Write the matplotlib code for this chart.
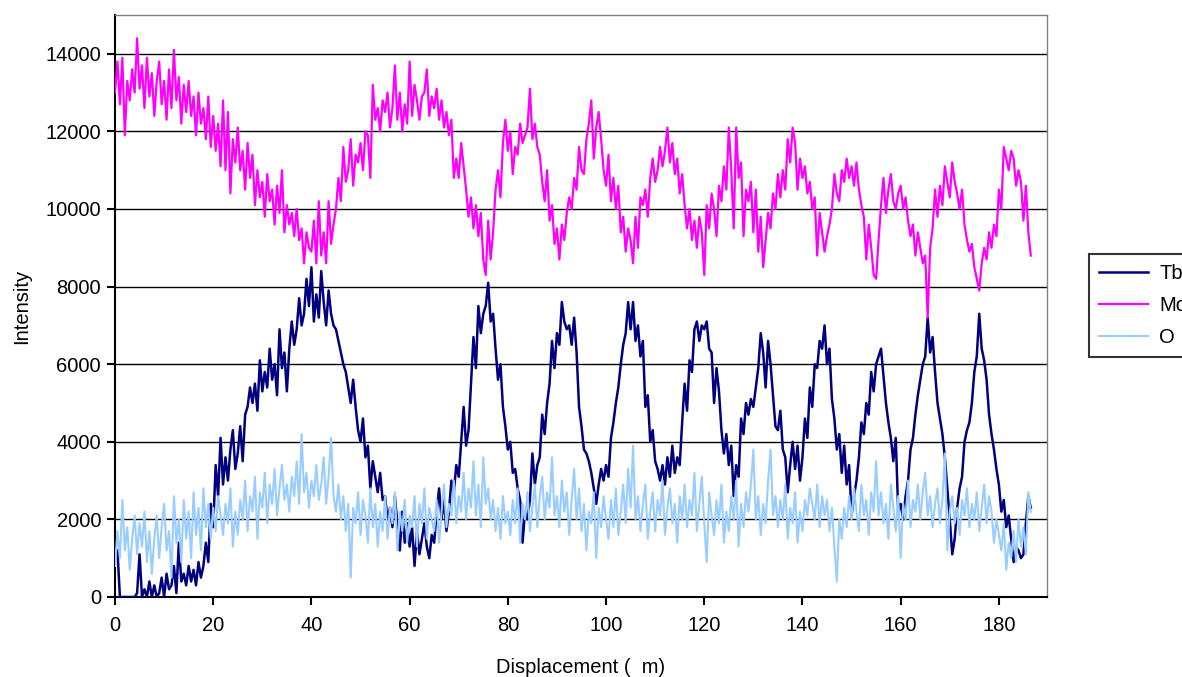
"""Tb / Mo / O intensity profiles along a line scan."""

import numpy as np
import matplotlib.pyplot as plt

# sampling step of the line scan (µm)
step_um = 0.5

# intensity values, one row = 5 µm
tb = [
    1100, 1200, 0, 0, 0, 0, 0, 0, 0, 100,
    1100, 0, 200, 0, 400, 0, 300, 0, 100, 500,
    0, 600, 200, 300, 800, 100, 1400, 400, 600, 300,
    800, 400, 700, 300, 900, 500, 800, 1400, 900, 2400,
    1800, 3400, 2600, 4100, 2900, 3600, 3000, 3800, 4300, 3300,
    3700, 4400, 3500, 4700, 4900, 5400, 5000, 5500, 4800, 6100,
    5300, 5800, 5400, 6400, 5600, 6000, 5200, 6900, 5900, 6300,
    5300, 6400, 7100, 6500, 6900, 7700, 7000, 7300, 8200, 7500,
    8500, 7100, 7800, 7200, 8400, 7600, 7000, 7900, 7300, 7000,
    6900, 6600, 6300, 6000, 5800, 5400, 5000, 5600, 4900, 4300,
    4000, 4600, 3600, 3900, 2800, 3500, 3100, 2700, 3200, 2500,
    2600, 2000, 2300, 1800, 2600, 1900, 1200, 2200, 1400, 1900,
    1300, 1800, 800, 1700, 1100, 1500, 1900, 1300, 1000, 1600,
    1400, 2200, 2800, 2000, 2500, 1700, 2200, 3000, 2700, 3400,
    3100, 4000, 4900, 3900, 4300, 5500, 6700, 5900, 7500, 6800,
    7300, 7500, 8100, 7100, 7300, 6400, 5600, 6000, 4900, 4400,
    3800, 4000, 3200, 3300, 2800, 2500, 1400, 2200, 2000, 2500,
    3700, 2900, 3400, 3600, 4700, 4200, 5000, 5500, 6600, 5900,
    6800, 6500, 7600, 7100, 6900, 7000, 6500, 7200, 6300, 4900,
    4400, 3800, 3700, 3500, 3200, 2800, 2400, 2900, 3300, 3000,
    3400, 3100, 4100, 4500, 5000, 5400, 6000, 6500, 6800, 7600,
    6900, 7600, 6600, 7000, 6200, 6600, 4900, 5200, 4000, 4300,
    3500, 3300, 3000, 3400, 2900, 3600, 3100, 3900, 3200, 3600,
    3400, 4500, 5500, 4800, 6100, 5800, 6900, 7100, 6600, 7000,
    6900, 7100, 6400, 6300, 5000, 5900, 5300, 4300, 3700, 4200,
    3400, 3900, 2600, 3400, 3100, 4600, 4200, 5000, 4700, 5100,
    4900, 5400, 5900, 6800, 6300, 5400, 6600, 6000, 5200, 4400,
    4300, 4800, 3800, 3600, 2700, 3400, 4000, 3300, 3900, 3000,
    3600, 4600, 4100, 5400, 4900, 6000, 5900, 6600, 6400, 7000,
    6000, 6400, 5100, 4600, 3800, 4200, 3200, 3900, 2900, 3400,
    2100, 2600, 3000, 3600, 4500, 4200, 5000, 4700, 5800, 5300,
    6000, 6200, 6400, 5700, 5000, 4500, 4100, 3500, 4100, 2200,
    2400, 2000, 2600, 3000, 3800, 4100, 4700, 5200, 5600, 6000,
    6200, 7200, 6300, 6700, 5800, 5000, 4600, 4200, 3600, 2800,
    2000, 1100, 1500, 2300, 2800, 3100, 4000, 4300, 4500, 5000,
    5800, 6200, 7300, 6400, 6100, 5600, 4700, 4200, 3800, 3300,
    2900, 2200, 2500, 1800, 2100, 1500, 900, 1300, 1200, 1000,
    1100, 1900, 2600, 2300,
]

mo = [
    13000, 13800, 12700, 13900, 11900, 13300, 12800, 13600, 13000, 14400,
    13100, 13700, 12600, 13900, 12900, 13500, 12400, 13300, 13800, 12700,
    13300, 12300, 13600, 12600, 14100, 12800, 13400, 12200, 13200, 12500,
    13300, 12400, 12900, 11900, 13000, 12200, 12600, 11800, 12900, 11600,
    12400, 11500, 12200, 11100, 12800, 11000, 12500, 10400, 11800, 11200,
    12100, 11000, 11500, 10500, 11700, 10800, 11400, 10100, 11000, 10300,
    10700, 9800, 10900, 10200, 10500, 9600, 10600, 9900, 11000, 9400,
    10100, 9600, 9900, 9300, 10000, 9200, 9500, 8600, 9400, 9000,
    8900, 9700, 8600, 10200, 8800, 9400, 8600, 10200, 9100, 9600,
    10000, 10800, 10200, 11600, 10700, 11000, 11800, 10600, 11400, 11200,
    11700, 11000, 12000, 11900, 10800, 13200, 12300, 12600, 12000, 12800,
    12500, 13000, 12100, 12600, 13700, 12300, 13000, 12000, 12700, 12200,
    13800, 12400, 13200, 12800, 12300, 12900, 13000, 13600, 12400, 12900,
    12600, 13100, 12300, 12800, 12100, 12500, 11900, 12300, 10800, 11300,
    10800, 11700, 11100, 10500, 9800, 10300, 9500, 10100, 9300, 9900,
    8700, 8300, 9700, 8700, 9400, 10500, 11000, 10300, 11700, 12300,
    11500, 12000, 10900, 11600, 11400, 12200, 11700, 11900, 12100, 13100,
    11800, 12200, 11600, 11400, 10700, 10200, 11000, 9700, 10100, 9100,
    9500, 8700, 9600, 9200, 9900, 10300, 10000, 10800, 10500, 11600,
    11000, 10900, 11800, 12200, 12800, 11300, 12100, 12500, 11800, 11000,
    10600, 11400, 10200, 10800, 10000, 10600, 9400, 9800, 8900, 9500,
    9200, 8600, 9800, 9000, 10300, 10100, 10500, 9800, 10800, 11300,
    10700, 11000, 11600, 11100, 11500, 12100, 11200, 11700, 10900, 11300,
    10400, 10900, 10100, 9500, 10000, 9200, 9700, 9000, 9800, 9400,
    8300, 10100, 9500, 10400, 10000, 9300, 10600, 10200, 11100, 10500,
    12100, 11000, 9500, 12100, 10800, 11200, 9300, 10500, 10200, 10700,
    9400, 10500, 8900, 9800, 8500, 9200, 9900, 9500, 10400, 10000,
    10900, 10300, 11000, 10500, 11800, 11200, 12100, 11700, 10500, 11300,
    10800, 11100, 10400, 10700, 10000, 10300, 8800, 9900, 9400, 8900,
    9300, 9600, 10000, 10900, 10400, 10200, 11000, 10700, 11300, 10800,
    11100, 10600, 11200, 10500, 10100, 9800, 8700, 9600, 9000, 8300,
    8200, 9200, 10100, 10800, 9900, 10500, 10900, 10200, 10000, 10400,
    10600, 10000, 10300, 9700, 9300, 9600, 8800, 9400, 9000, 8600,
    8800, 7200, 9000, 9500, 10500, 9800, 10600, 10100, 11100, 10700,
    10300, 11200, 10700, 10400, 10000, 10500, 9600, 9200, 8900, 9100,
    8500, 8200, 7900, 8600, 9000, 8700, 9400, 9000, 9600, 9300,
    10500, 10000, 11600, 11300, 11000, 11500, 11300, 10600, 11000, 10700,
    9700, 10600, 9400, 8800,
]

o = [
    800, 1700, 1000, 2500, 1200, 1800, 700, 1500, 2100, 1100,
    1900, 1300, 2200, 900, 1700, 600, 1500, 2100, 1000, 1800,
    2400, 1200, 1700, 500, 2600, 1400, 2000, 900, 2500, 1500,
    2200, 1000, 2700, 1600, 2300, 1200, 2800, 1800, 2400, 1500,
    2300, 1700, 2600, 2100, 1600, 2400, 1900, 2800, 1300, 2200,
    1600, 2500, 2000, 3000, 1700, 2600, 2200, 3100, 1500, 2700,
    2300, 3200, 1900, 2900, 2400, 3300, 2100, 2800, 3400, 2500,
    2900, 2200, 3100, 2600, 3500, 2400, 4200, 2700, 3200, 2300,
    3000, 2600, 3400, 2500, 2900, 3600, 2400, 3100, 4100, 2600,
    2200, 2900, 2000, 2600, 1700, 2400, 500, 2300, 1900, 2700,
    1600, 2500, 2100, 1400, 2800, 1800, 2400, 1300, 2200, 1700,
    2600, 1500, 2300, 1900, 2700, 1200, 2200, 1700, 2500, 1400,
    2100, 1800, 2600, 1300, 2400, 1900, 2800, 1500, 2300, 2000,
    1700, 2500, 1400, 2200, 2900, 1800, 2400, 2100, 3000, 1900,
    2600, 2200, 3200, 2000, 2800, 2300, 3500, 2100, 2900, 1800,
    3600, 2400, 2800, 2000, 2500, 1700, 2300, 1500, 2600, 1900,
    2200, 1600, 2500, 1900, 2800, 1400, 2400, 2000, 2700, 1700,
    2300, 2900, 1800, 2600, 3100, 2000, 2700, 2300, 3600, 2100,
    2600, 1800, 3000, 2200, 2700, 1600, 2500, 3300, 2000, 2800,
    1700, 2400, 1200, 2200, 1900, 2700, 1000, 2300, 1800, 2600,
    2000, 1500, 2500, 1800, 2800, 1600, 2200, 2900, 1900, 3300,
    2300, 3900, 2000, 2600, 1700, 2400, 2900, 1500, 2200, 2700,
    1700, 2500, 2100, 3000, 1600, 2300, 2800, 1900, 2400, 1400,
    2600, 2000, 2900, 1800, 2500, 2100, 3200, 1700, 2400, 3100,
    1900, 900, 2700, 2100, 1600, 2500, 1900, 2900, 1400, 2200,
    1700, 2600, 2000, 3000, 1300, 2400, 1800, 2700, 2200, 2900,
    3800, 2000, 2600, 1600, 2400, 1900, 3000, 3800, 2100, 2600,
    1800, 2500, 2000, 2900, 1500, 2300, 1900, 2700, 1400, 2200,
    1700, 2500, 2100, 2800, 2400, 2000, 2900, 1800, 2600, 2100,
    2500, 1700, 2300, 1300, 400, 2000, 1500, 2300, 1800, 2600,
    2000, 2800, 2200, 1700, 2900, 2100, 2500, 1600, 2700, 2200,
    3500, 2100, 2700, 1900, 2400, 1500, 2900, 2300, 1700, 2600,
    1000, 2400, 2000, 3000, 1800, 2500, 2200, 2900, 2000, 2700,
    3200, 2100, 2600, 1800, 2400, 2800, 1900, 2500, 3700, 1200,
    2200, 2600, 1900, 2300, 1600, 2500, 2100, 2800, 1800, 2400,
    2000, 2700, 1700, 2300, 2900, 1900, 2600, 2200, 1400, 2000,
    1600, 1200, 1900, 700, 1400, 1000, 1700, 900, 2000, 1300,
    1800, 1100, 2700, 2200,
]

assert len(tb) == len(mo) == len(o)
displacement = np.arange(len(tb)) * step_um

series_names = ["Tb", "Mo", "O"]
series_colors = ["#000080", "#FF00FF", "#99CCFF"]
series_widths = [1.8, 1.6, 1.5]

plt.rcParams.update({
    "font.family": ["Liberation Sans", "DejaVu Sans"],
    "font.size": 14.5,
})

fig = plt.figure(figsize=(11.82, 6.77), dpi=100)
ax = fig.add_axes([115 / 1182, 80 / 677, 932 / 1182, 582 / 677])

for vals, name, col, w in zip([tb, mo, o], series_names, series_colors, series_widths):
    ax.plot(displacement, vals, color=col, lw=w, label=name, zorder=3)

ax.set_xlim(0, 189.8)
ax.set_ylim(0, 15000)
ax.set_xticks(np.arange(0, 181, 20))
ax.set_yticks(np.arange(0, 14001, 2000))
ax.yaxis.grid(True, color="black", lw=1.0)
ax.set_axisbelow(True)

for side in ["left", "bottom"]:
    ax.spines[side].set_color("black")
    ax.spines[side].set_linewidth(1.5)
for side in ["top", "right"]:
    ax.spines[side].set_color("#808080")
    ax.spines[side].set_linewidth(1.0)

ax.tick_params(axis="both", direction="out", length=6, width=1.5, color="black")
ax.tick_params(axis="x", pad=8)
ax.tick_params(axis="y", pad=4)

ax.set_xlabel("Displacement (  m)", labelpad=16)
ax.set_ylabel("Intensity", labelpad=10)

leg = fig.legend(loc="upper left", bbox_to_anchor=(1089 / 1182, 1 - 254 / 677),
                 borderaxespad=0, fancybox=False, frameon=True, edgecolor="black",
                 handlelength=2.45, handletextpad=0.55, labelspacing=0.65, borderpad=0.5)
leg.get_frame().set_linewidth(1.5)

fig.savefig("out.png", dpi=100)
